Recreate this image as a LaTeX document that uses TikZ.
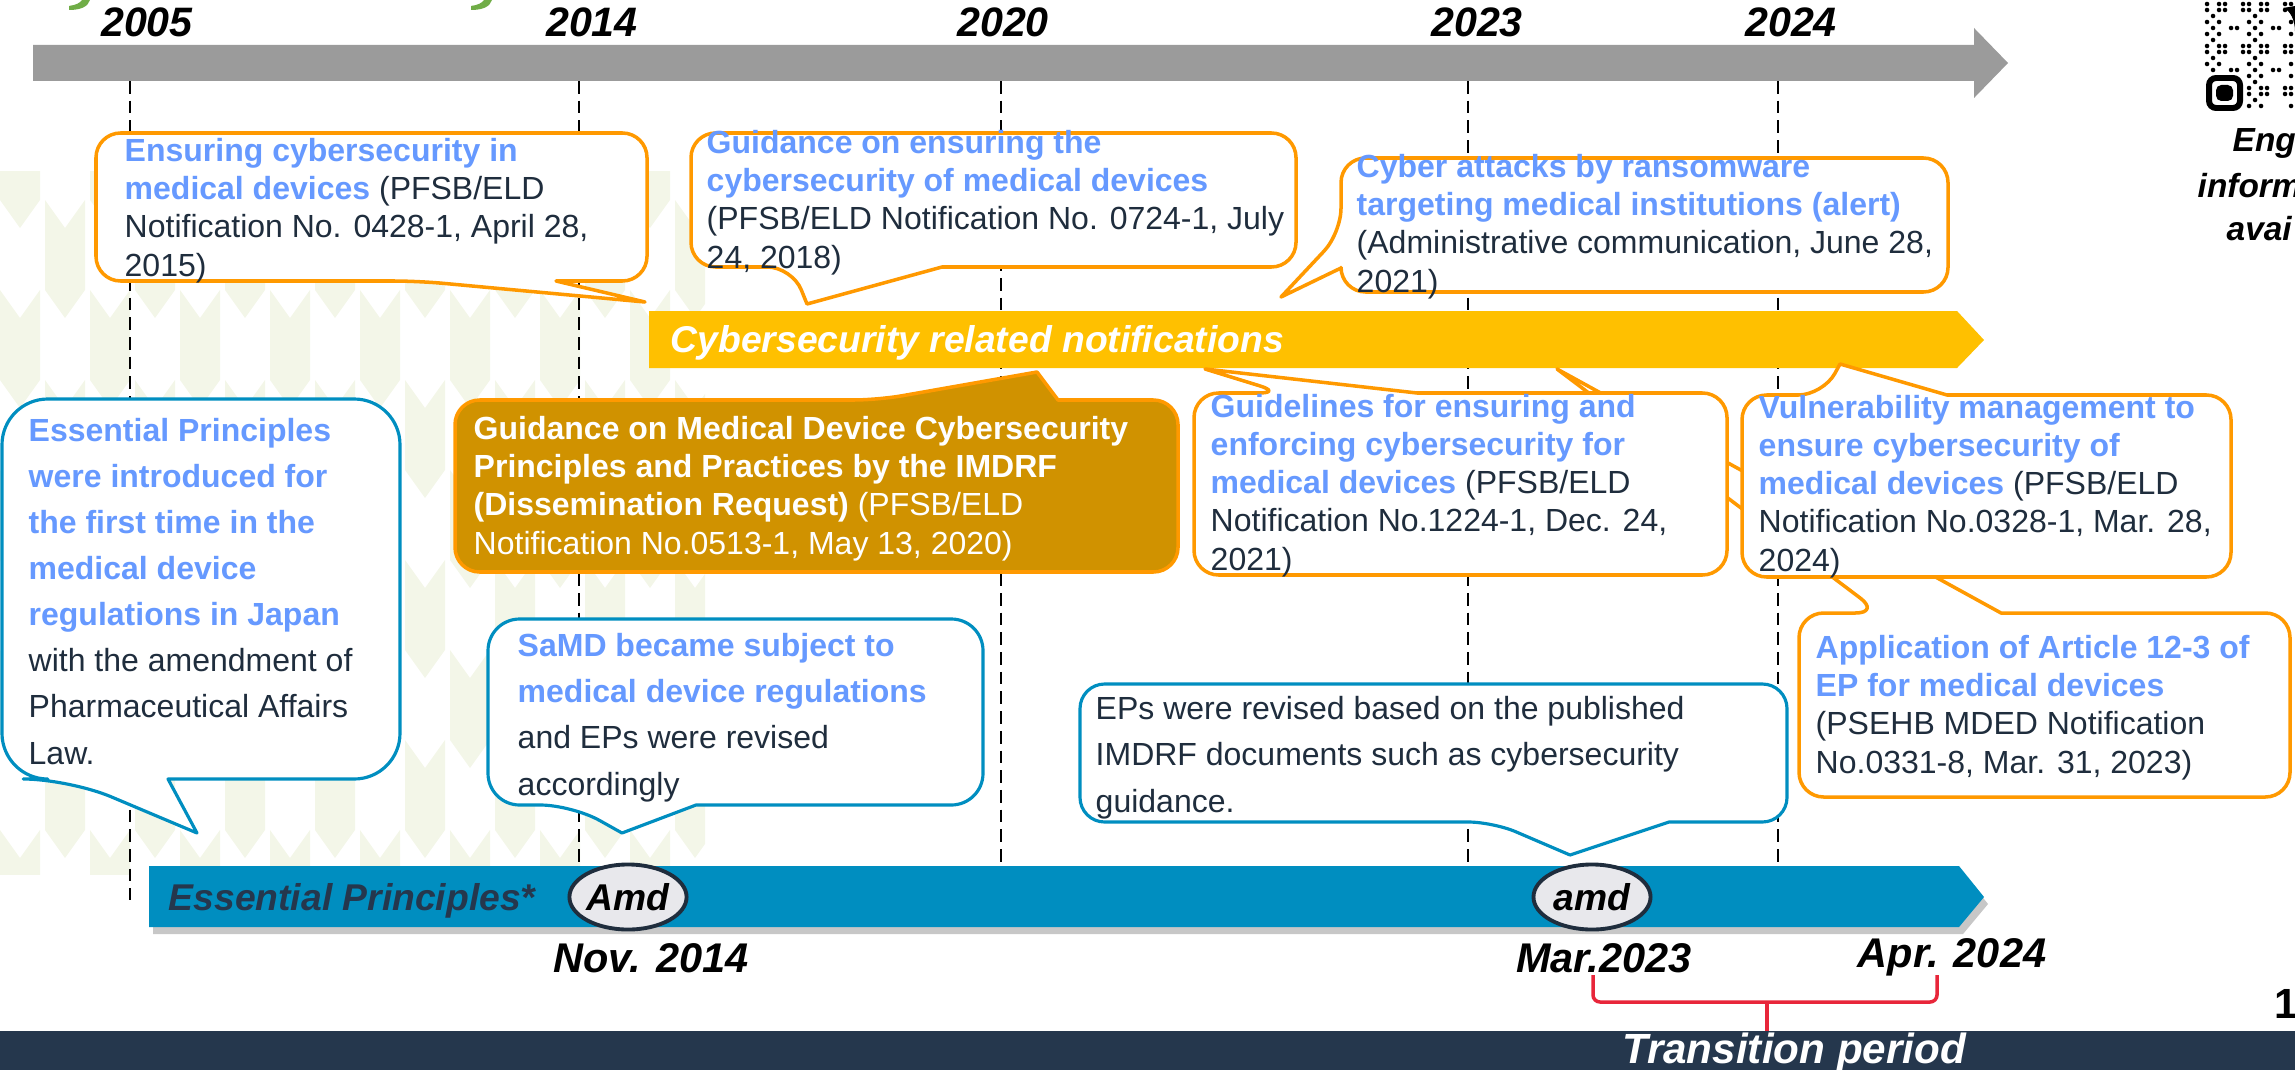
\documentclass[tikz,border=0pt]{standalone}
\usepackage{fontspec}
\setmainfont{Liberation Sans}
\usetikzlibrary{shapes.geometric}

\definecolor{calloutorange}{RGB}{255,153,0}
\definecolor{baryellow}{RGB}{255,192,0}
\definecolor{goldfill}{RGB}{208,146,0}
\definecolor{epblue}{RGB}{0,142,192}
\definecolor{keyblue}{RGB}{102,153,255}
\definecolor{textnavy}{RGB}{31,45,61}
\definecolor{bandnavy}{RGB}{37,55,77}
\definecolor{timegray}{RGB}{155,155,155}
\definecolor{patgreen}{RGB}{243,246,232}
\definecolor{titlegreen}{RGB}{112,173,71}
\definecolor{bracered}{RGB}{232,38,58}
\definecolor{markfill}{RGB}{232,232,236}

\newcommand\keytext[1]{\textcolor{keyblue}{\bfseries #1}}
\newcommand\yearfont{\fontsize{11.7}{14}\selectfont\bfseries\itshape}
\newcommand\callfont{\fontsize{9.1}{10.85}\selectfont}
\newcommand\epfont{\fontsize{9.1}{13.1}\selectfont}

% callout texts are placed by the baseline of their last line
\tikzset{
  year/.style={anchor=base, inner sep=0pt, font=\yearfont},
  yearline/.style={black, line width=0.5pt, dash pattern=on 3.6pt off 2pt},
  calltext/.style={anchor=base west, inner sep=0pt, align=left, text=textnavy, font=\callfont},
  eptext/.style={calltext, font=\epfont},
  orangecall/.style={draw=calloutorange, line width=1pt, fill=white, line join=round},
  bluecall/.style={draw=epblue, line width=0.9pt, fill=white, line join=round},
  barlabel/.style={anchor=base west, inner sep=0pt, font=\fontsize{10.6}{12}\selectfont\bfseries\itshape},
  edgetext/.style={anchor=base west, inner sep=0pt, font=\fontsize{9.5}{11}\selectfont\bfseries\itshape},
  epmark/.style={ellipse, draw=textnavy, line width=1.1pt, fill=markfill, inner sep=0pt,
    minimum width=1.17cm, minimum height=0.65cm, font=\fontsize{10.6}{12}\selectfont\bfseries\itshape}
}

\begin{document}
\begin{tikzpicture}[x=0.01cm, y=-0.01cm]
\clip (0,0) rectangle (2295,1070);

% arrow-feather backdrop
\begin{scope}
  \clip (0,172) rectangle (705,874);
  \foreach \c in {0,...,15}{
    \pgfmathsetmacro\colx{\c*45}
    \pgfmathsetmacro\coly{mod(\c,2)*90+110}
    \foreach \r in {0,...,4}{
      \fill[patgreen] (\colx,\coly+\r*180) -- ++(20,28) -- ++(20,-28) -- ++(0,90) -- ++(-20,28) -- ++(-20,-28) -- cycle;
    }
  }
\end{scope}

% tails of the title letters
\foreach \gx in {0,402}{
  \begin{scope}[shift={(\gx,0)}]
    \fill[titlegreen] (82,0) -- (90,0) .. controls (88,7) and (80,10) .. (69,10) -- (69,6) .. controls (76,5) and (80,3) .. (82,0) -- cycle;
  \end{scope}
}

% year guides
\foreach \lx in {579,1001,1468,1778} \draw[yearline] (\lx,81) -- (\lx,866);
\draw[yearline] (130,81) -- (130,900);

% time arrow
\fill[timegray] (33,45) -- (1974,45) -- (1974,28) -- (2008,63) -- (1974,98) -- (1974,81) -- (33,81) -- cycle;
\node[year] (y2005) at (147,37) {2005};
\node[year] (y2014) at (592,37) {2014};
\node[year] (y2020) at (1003,37) {2020};
\node[year] (y2023) at (1477,37) {2023};
\node[year] (y2024) at (1791,37) {2024};

% QR code
\foreach \i in {0,...,14}{
  \foreach \j in {0,...,17}{
    \pgfmathtruncatemacro\qrdot{(mod(\i*\i*3+\j*\j*5+\i*\j*7+\i+2*\j,7)<3)*(1-(\i<7)*(\j>11))}
    \ifnum\qrdot=1 \fill (2207+\i*6,4+\j*6) circle[radius=0.65pt]; \fi
  }
}
\draw[line width=1.7pt, rounded corners=2pt] (2209,78) rectangle (2240,108);
\fill[rounded corners=1.5pt] (2216,85) rectangle (2233,101);
\fill (2283,8) .. controls (2290,10) and (2295,20) .. (2295,32) -- (2295,6) -- cycle;
\node[edgetext] (qrA) at (2232,152) {Eng};
\node[edgetext] (qrB) at (2197,197) {inform};
\node[edgetext] (qrC) at (2226,240) {avai};
\node[anchor=base west, inner sep=0pt, font=\fontsize{12}{14}\selectfont\bfseries] (pagenum) at (2274,1018) {1};

% notifications bar
\fill[baryellow] (649,311) -- (1957,311) -- (1984,340) -- (1957,368) -- (649,368) -- cycle;
\node[barlabel, text=white] (cyberlbl) at (670,352) {Cybersecurity related notifications};

% notification callouts below the bar
\draw[orangecall] (2001,613) [rounded corners=7pt] -- (2290,613) -- (2290,797) -- (1799,797) -- (1799,613) -- (1880,613) [sharp corners] -- (1557,369) -- cycle;
\node[calltext] (article) at (1815,773) {\keytext{Application of Article 12-3 of}\\\keytext{EP for medical devices}\\(PSEHB MDED Notification\\No.0331-8, Mar. 31, 2023)};

\draw[orangecall] (1417,393) [rounded corners=7pt] -- (1727,393) -- (1727,575) -- (1194,575) -- (1194,393) -- (1283,393) [sharp corners] -- (1205,369) -- cycle;
\node[calltext] (guidelines) at (1210,570) {\keytext{Guidelines for ensuring and}\\\keytext{enforcing cybersecurity for}\\\keytext{medical devices} (PFSB/ELD\\Notification No.1224-1, Dec. 24,\\2021)};

\draw[orangecall] (1947,395) [rounded corners=7pt] -- (2231,395) -- (2231,577) -- (1742,577) -- (1742,395) -- (1823,395) [sharp corners] -- (1840,364) -- cycle;
\node[calltext] (vulner) at (1758,571) {\keytext{Vulnerability management to}\\\keytext{ensure cybersecurity of}\\\keytext{medical devices} (PFSB/ELD\\Notification No.0328-1, Mar. 28,\\2024)};

\draw[orangecall, fill=goldfill] (1058,400) [rounded corners=7pt] -- (1178,400) -- (1178,572) -- (455,572) -- (455,400) -- (878,400) [sharp corners] -- (1037,372) -- cycle;
\node[calltext, text=white] (imdrf) at (473,554) {\textbf{Guidance on Medical Device Cybersecurity}\\\textbf{Principles and Practices by the IMDRF}\\\textbf{(Dissemination Request)} (PFSB/ELD\\Notification No.0513-1, May 13, 2020)};

% notification callouts above the bar
\draw[orangecall] (556,281) [rounded corners=7pt] -- (647,281) -- (647,133) -- (96,133) -- (96,281) -- (418,281) [sharp corners] -- (645,302) -- cycle;
\node[calltext] (ensuring) at (124,276) {\keytext{Ensuring cybersecurity in}\\\keytext{medical devices} (PFSB/ELD\\Notification No. 0428-1, April 28,\\2015)};

\draw[orangecall] (942,267) [rounded corners=7pt] -- (1296,267) -- (1296,133) -- (691,133) -- (691,267) -- (792,267) [sharp corners] -- (807,304) -- cycle;
\node[calltext] (guidance) at (706,268) {\keytext{Guidance on ensuring the}\\\keytext{cybersecurity of medical devices}\\(PFSB/ELD Notification No. 0724-1, July\\24, 2018)};

\draw[orangecall] (1341,268) [rounded corners=7pt] -- (1341,292) -- (1948,292) -- (1948,158) -- (1341,158) -- (1341,233) [sharp corners] -- (1281,297) -- cycle;
\node[calltext] (ransom) at (1356,292) {\keytext{Cyber attacks by ransomware}\\\keytext{targeting medical institutions (alert)}\\(Administrative communication, June 28,\\2021)};

% essential principles bar
\fill[black!22] (153,873) -- (1963,873) -- (1988,904) -- (1963,934) -- (153,934) -- cycle;
\fill[epblue] (149,866) -- (1959,866) -- (1984,897) -- (1959,927) -- (149,927) -- cycle;
\node[barlabel, text=bandnavy] (eplbl) at (168,910) {Essential Principles*};
\node[epmark] (amdA) at (628,897) {Amd};
\node[epmark] (amdB) at (1592,897) {amd};

% essential principles callouts
\draw[bluecall] (168,779) [rounded corners=13pt] -- (400,779) -- (400,399) -- (2,399) -- (2,779) -- (69,779) [sharp corners] -- (197,833) -- cycle;
\node[eptext] (intro) at (28,764) {\keytext{Essential Principles}\\\keytext{were introduced for}\\\keytext{the first time in the}\\\keytext{medical device}\\\keytext{regulations in Japan}\\with the amendment of\\Pharmaceutical Affairs\\Law.};

\draw[bluecall] (696,805) [rounded corners=9pt] -- (983,805) -- (983,619) -- (488,619) -- (488,805) -- (572,805) [sharp corners] -- (622,833) -- cycle;
\node[eptext] (samd) at (517,795) {\keytext{SaMD became subject to}\\\keytext{medical device regulations}\\and EPs were revised\\accordingly};

\draw[bluecall] (1669,822) [rounded corners=7pt] -- (1787,822) -- (1787,684) -- (1080,684) -- (1080,822) -- (1493,822) [sharp corners] -- (1570,855) -- cycle;
\node[eptext] (revised) at (1095,812) {EPs were revised based on the published\\IMDRF documents such as cybersecurity\\guidance.};

% dates and transition period
\node[year, font=\fontsize{11.8}{14}\selectfont\bfseries\itshape] (nov14) at (651,972) {Nov. 2014};
\node[year, font=\fontsize{11.8}{14}\selectfont\bfseries\itshape] (mar23) at (1604,972) {Mar.2023};
\node[year, font=\fontsize{11.8}{14}\selectfont\bfseries\itshape] (apr24) at (1952,967) {Apr. 2024};
\draw[bracered, line width=1pt, rounded corners=2pt] (1593,975) -- (1593,1002) -- (1937,1002) -- (1937,975);
\draw[bracered, line width=1pt] (1767,1002) -- (1767,1031);

\fill[bandnavy] (0,1031) rectangle (2295,1070);
\node[year, text=white, font=\fontsize{12}{14}\selectfont\bfseries\itshape] (transit) at (1794,1063) {Transition period};
\end{tikzpicture}
\end{document}
